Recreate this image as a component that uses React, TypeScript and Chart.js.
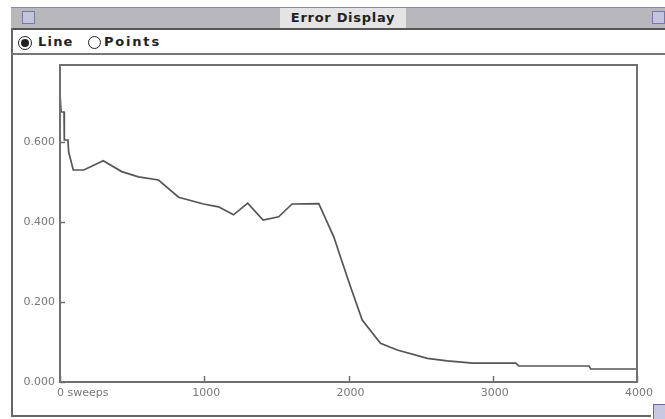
import React, { useEffect, useRef } from "react";
import { Chart, registerables } from "chart.js";

Chart.register(...registerables);

const sweeps = [0, 8, 28, 30, 55, 60, 92, 165, 300, 428, 544, 683, 822, 995, 1099, 1203, 1301, 1408, 1516, 1609, 1794, 1898, 1944, 2014, 2095, 2222, 2338, 2547, 2685, 2861, 3160, 3181, 3667, 3680, 4000];
const errors = [0.72, 0.675, 0.675, 0.605, 0.605, 0.575, 0.53, 0.53, 0.553, 0.526, 0.513, 0.505, 0.462, 0.445, 0.438, 0.418, 0.447, 0.405, 0.413, 0.445, 0.446, 0.363, 0.313, 0.238, 0.155, 0.097, 0.08, 0.059, 0.053, 0.047, 0.047, 0.04, 0.04, 0.0325, 0.0325];

const yTickValues = [0, 0.2, 0.4, 0.6];
const xTickValues = [0, 1000, 2000, 3000, 4000];
const xTickLabels = ["0 sweeps", "1000", "2000", "3000", "4000"];

const X_MAX = 4000;
const Y_MAX = 0.7925;

const framePlugin = {
  id: "macFrame",
  afterDraw(chart: any) {
    const { ctx, chartArea: a, scales } = chart;
    ctx.save();
    ctx.strokeStyle = "#707070";
    ctx.lineWidth = 2;
    ctx.strokeRect(a.left, a.top, a.right - a.left, a.bottom - a.top);
    ctx.lineWidth = 1.5;
    ctx.beginPath();
    yTickValues.forEach((v) => {
      const y = Math.round(scales.y.getPixelForValue(v)) + 0.5;
      ctx.moveTo(a.left, y);
      ctx.lineTo(a.left + 5, y);
    });
    xTickValues.forEach((v) => {
      const x = Math.round(scales.x.getPixelForValue(v)) + 0.5;
      ctx.moveTo(x, a.bottom);
      ctx.lineTo(x, a.bottom - 6);
    });
    ctx.stroke();

    ctx.fillStyle = "#777";
    ctx.font = "11px 'DejaVu Sans'";
    ctx.textAlign = "right";
    ctx.textBaseline = "middle";
    yTickValues.forEach((v) => {
      const y = scales.y.getPixelForValue(v);
      ctx.fillText(v.toFixed(3), a.left - 5, y);
    });
    ctx.textBaseline = "middle";
    xTickValues.forEach((v, i) => {
      const x = scales.x.getPixelForValue(v);
      if (i === 0) {
        ctx.textAlign = "left";
        ctx.fillText(xTickLabels[i], x - 3, a.bottom + 11);
      } else {
        ctx.textAlign = "center";
        ctx.fillText(xTickLabels[i], x + 2, a.bottom + 11);
      }
    });
    ctx.restore();
  },
};

function ErrorChart() {
  const ref = useRef<HTMLCanvasElement | null>(null);
  useEffect(() => {
    if (!ref.current) return;
    const chart = new Chart(ref.current, {
      type: "line",
      data: {
        datasets: [
          {
            data: sweeps.map((s, i) => ({ x: s, y: errors[i] })),
            borderColor: "#555",
            borderWidth: 1.7,
            pointRadius: 0,
            tension: 0,
            fill: false,
          },
        ],
      },
      options: {
        responsive: false,
        animation: false,
        devicePixelRatio: 1,
        layout: { padding: { left: 60, top: 9, right: 28, bottom: 37 } },
        plugins: { legend: { display: false }, tooltip: { enabled: false } },
        scales: {
          x: { type: "linear", min: 0, max: X_MAX, display: false },
          y: { type: "linear", min: 0, max: Y_MAX, display: false },
        },
      },
      plugins: [framePlugin],
    });
    return () => chart.destroy();
  }, []);
  return (
    <canvas
      ref={ref}
      width={665}
      height={363}
      style={{ position: "absolute", left: 0, top: 56, width: 665, height: 363 }}
    />
  );
}

const chromeFont = "'DejaVu Sans', sans-serif";

export default function App() {
  return (
    <div
      style={{
        position: "fixed",
        left: 0,
        top: 0,
        width: 665,
        height: 419,
        background: "#fff",
        overflow: "hidden",
      }}
    >
      {/* title bar */}
      <div
        style={{
          position: "absolute",
          left: 11,
          top: 7,
          width: 660,
          height: 20,
          background: "#b8b8bc",
          borderTop: "1px solid #8a88aa",
          borderBottom: "2px solid #555",
        }}
      />
      <div
        style={{
          position: "absolute",
          left: 280,
          top: 8,
          width: 126,
          height: 20,
          background: "#e4e4e4",
          fontFamily: chromeFont,
          fontWeight: "bold",
          fontSize: 13,
          letterSpacing: 0.7,
          lineHeight: "20px",
          textAlign: "center",
          color: "#222",
        }}
      >
        Error Display
      </div>
      <div
        style={{
          position: "absolute",
          left: 22,
          top: 11,
          width: 11,
          height: 11,
          border: "1px solid #7878a8",
          background: "#c4c4da",
        }}
      />
      <div
        style={{
          position: "absolute",
          left: 652,
          top: 11,
          width: 11,
          height: 11,
          border: "1px solid #7878a8",
          background: "#c4c4da",
        }}
      />
      {/* left border */}
      <div style={{ position: "absolute", left: 11, top: 28, width: 2, height: 389, background: "#666" }} />
      {/* bottom border */}
      <div style={{ position: "absolute", left: 11, top: 415, width: 640, height: 2, background: "#666" }} />
      {/* resize box */}
      <div
        style={{
          position: "absolute",
          left: 653,
          top: 404,
          width: 12,
          height: 14,
          border: "1px solid #6a6aa0",
          background: "#c8c8e0",
        }}
      />
      {/* radio row */}
      <div
        style={{
          position: "absolute",
          left: 18,
          top: 36,
          width: 12,
          height: 12,
          borderRadius: "50%",
          border: "1px solid #222",
          background: "#fff",
        }}
      >
        <div
          style={{
            position: "absolute",
            left: 2,
            top: 2,
            width: 8,
            height: 8,
            borderRadius: "50%",
            background: "#222",
          }}
        />
      </div>
      <div
        style={{
          position: "absolute",
          left: 38,
          top: 33,
          fontFamily: chromeFont,
          fontWeight: "bold",
          fontSize: 13,
          letterSpacing: 1.2,
          lineHeight: "18px",
          color: "#222",
        }}
      >
        Line
      </div>
      <div
        style={{
          position: "absolute",
          left: 88,
          top: 36,
          width: 11,
          height: 11,
          borderRadius: "50%",
          border: "1px solid #222",
          background: "#fff",
        }}
      />
      <div
        style={{
          position: "absolute",
          left: 104,
          top: 33,
          fontFamily: chromeFont,
          fontWeight: "bold",
          fontSize: 13,
          letterSpacing: 1.8,
          lineHeight: "18px",
          color: "#222",
        }}
      >
        Points
      </div>
      <div style={{ position: "absolute", left: 11, top: 53, width: 654, height: 2, background: "#777" }} />
      <ErrorChart />
    </div>
  );
}
